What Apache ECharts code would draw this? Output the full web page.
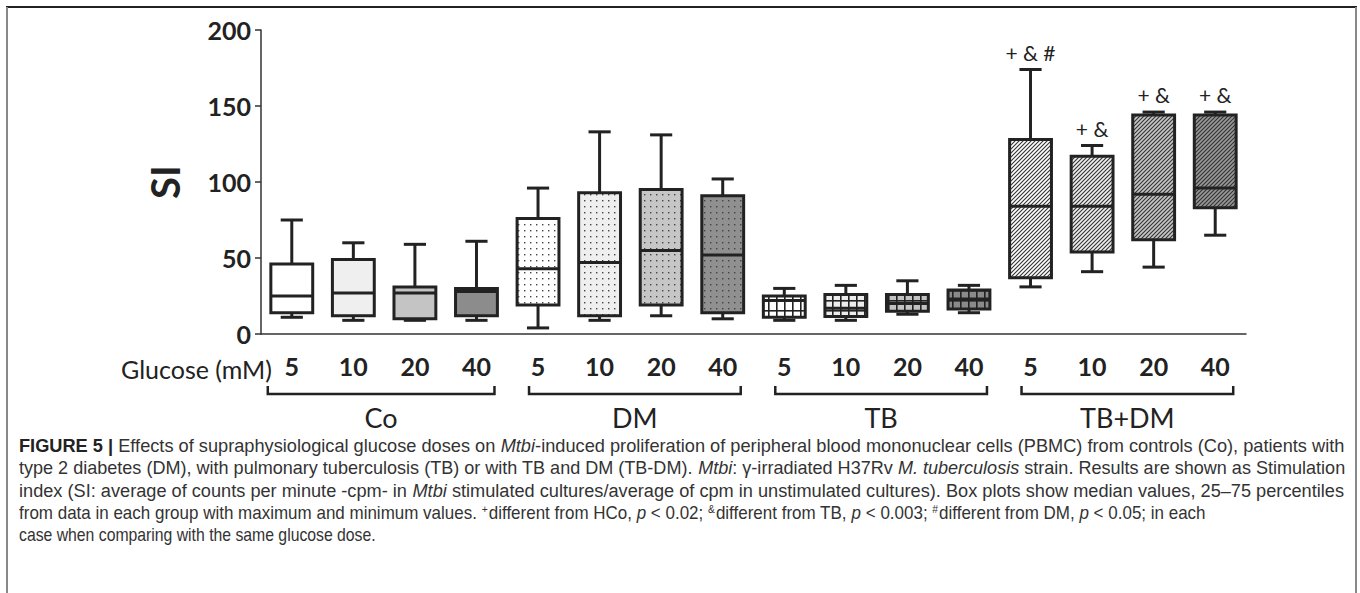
<!DOCTYPE html>
<html>
<head>
<meta charset="utf-8">
<script src="https://cdn.jsdelivr.net/npm/echarts@6/dist/echarts.min.js"></script>
<style>
  html, body { margin: 0; padding: 0; background: #fff; }
  #chart { width: 1360px; height: 593px; }
</style>
</head>
<body>
<div id="chart"></div>
<script>
// groups on the x axis, 4 glucose doses each
const groups = ['Co', 'DM', 'TB', 'TB+DM']
const doses = ['5', '10', '20', '40']
const categories = groups.flatMap(g => doses.map(d => g + ' ' + d))

// box plot values (SI)
const whiskerLow = [11, 9, 9, 9, 4, 9, 12, 10, 9, 9, 13, 14, 31, 41, 44, 65]
const q1 = [14, 12, 10, 12, 19, 12, 19, 14, 11, 11.5, 15, 16.5, 37, 54, 62, 83]
const median = [25, 27, 27, 28, 43, 47, 55, 52, 22, 17, 20, 23, 84, 84, 92, 96]
const q3 = [46, 49, 31, 30, 76, 93, 95, 91, 25, 26, 26, 29, 128, 117, 144, 144]
const whiskerHigh = [75, 60, 59, 61, 96, 133, 131, 102, 30, 32, 35, 32, 174, 124, 146, 146]
const sigLabels = ['', '', '', '', '', '', '', '', '', '', '', '', '+ & #', '+ &', '+ &', '+ &']
const yTicks = [0, 50, 100, 150, 200]

const boxData = categories.map((c, i) => [i, whiskerLow[i], q1[i], median[i], q3[i], whiskerHigh[i]])

// fills: pattern per group, grey shade per dose
const patternKinds = ['plain', 'dots', 'grid', 'hatch']
const shades = [
  ['#ffffff', '#efefef', '#c4c4c4', '#8c8c8c'],
  ['#ffffff', '#efefef', '#c6c6c6', '#909090'],
  ['#ffffff', '#ededed', '#c2c2c2', '#8a8a8a'],
  ['#ffffff', '#eeeeee', '#c6c6c6', '#979797']
]

function makeFill (kind, bg) {
  if (kind === 'plain') return bg
  const c = document.createElement('canvas')
  let ctx
  if (kind === 'dots') {
    c.width = 6; c.height = 6
    ctx = c.getContext('2d')
    ctx.fillStyle = bg; ctx.fillRect(0, 0, 6, 6)
    ctx.fillStyle = '#444'; ctx.fillRect(2, 2, 1.4, 1.4)
  } else if (kind === 'grid') {
    c.width = 8; c.height = 10
    ctx = c.getContext('2d')
    ctx.fillStyle = bg; ctx.fillRect(0, 0, 8, 10)
    ctx.fillStyle = '#222'
    ctx.fillRect(0, 0, 1.6, 10)
    ctx.fillRect(0, 0, 8, 1.6)
  } else {
    c.width = 4; c.height = 4
    ctx = c.getContext('2d')
    ctx.fillStyle = bg; ctx.fillRect(0, 0, 4, 4)
    ctx.strokeStyle = '#333'; ctx.lineWidth = 1.1
    ctx.beginPath()
    ctx.moveTo(-1, 5); ctx.lineTo(5, -1)
    ctx.moveTo(-1, 1); ctx.lineTo(1, -1)
    ctx.moveTo(3, 5); ctx.lineTo(5, 3)
    ctx.stroke()
  }
  return { type: 'pattern', image: c, repeat: 'repeat' }
}

const fills = categories.map((c, i) => makeFill(patternKinds[Math.floor(i / 4)], shades[Math.floor(i / 4)][i % 4]))

function renderBox (params, api) {
  const i = api.value(0)
  const band = api.size([1, 0])[0]
  const half = band * 0.34
  const cap = band * 0.18
  const x = api.coord([i, 0])[0]
  const y = k => api.coord([i, api.value(k)])[1]
  const yLow = y(1), yQ1 = y(2), yMed = y(3), yQ3 = y(4), yHigh = y(5)
  const ls = { stroke: '#222', lineWidth: 3 }
  return {
    type: 'group',
    children: [
      { type: 'line', shape: { x1: x, y1: yHigh, x2: x, y2: yQ3 }, style: ls },
      { type: 'line', shape: { x1: x, y1: yQ1, x2: x, y2: yLow }, style: ls },
      { type: 'line', shape: { x1: x - cap, y1: yHigh, x2: x + cap, y2: yHigh }, style: ls },
      { type: 'line', shape: { x1: x - cap, y1: yLow, x2: x + cap, y2: yLow }, style: ls },
      {
        type: 'rect',
        shape: { x: x - half, y: yQ3, width: half * 2, height: yQ1 - yQ3 },
        style: { fill: fills[i], stroke: '#222', lineWidth: 3 }
      },
      { type: 'line', shape: { x1: x - half, y1: yMed, x2: x + half, y2: yMed }, style: ls },
      {
        type: 'text',
        style: {
          text: sigLabels[i], x: x, y: yHigh - 7,
          align: 'center', verticalAlign: 'bottom',
          font: '21px Lato', fill: '#222'
        }
      }
    ]
  }
}

const chart = echarts.init(document.getElementById('chart'), null, { renderer: 'svg' })

chart.setOption({
  animation: false,
  grid: { left: 261, top: 30, width: 985, height: 304 },
  xAxis: {
    type: 'category',
    data: categories,
    axisLine: { lineStyle: { color: '#333', width: 1.5 } },
    axisTick: { alignWithLabel: true, length: 11, lineStyle: { color: '#333', width: 1.5 } },
    axisLabel: {
      formatter: v => v.split(' ')[1],
      fontFamily: 'Lato', fontWeight: 'bold', fontSize: 25, color: '#222', margin: 19
    }
  },
  yAxis: {
    type: 'value',
    min: yTicks[0],
    max: yTicks[yTicks.length - 1],
    interval: 50,
    name: 'SI',
    nameLocation: 'middle',
    nameRotate: 90,
    nameGap: 76,
    nameTextStyle: { fontFamily: 'Lato', fontWeight: 'bold', fontSize: 40, color: '#222' },
    axisLine: { show: true, lineStyle: { color: '#333', width: 1.5 } },
    axisTick: { show: true, length: 6, lineStyle: { color: '#333', width: 1.5 } },
    splitLine: { show: false },
    axisLabel: { fontFamily: 'Lato', fontWeight: 'bold', fontSize: 25, color: '#222', margin: 10 }
  },
  series: [{
    type: 'custom',
    renderItem: renderBox,
    data: boxData,
    encode: { x: 0, y: [1, 2, 3, 4, 5] },
    clip: false
  }]
})

// brackets and group names under the axis
const px = i => chart.convertToPixel({ xAxisIndex: 0 }, categories[i])
const graphics = []
groups.forEach((g, gi) => {
  const left = px(gi * 4) - (gi === 0 ? 24 : 9)
  const right = px(gi * 4 + 3) + 18
  graphics.push({
    type: 'polyline',
    shape: { points: [[left, 386], [left, 394], [right, 394], [right, 386]] },
    style: { stroke: '#222', lineWidth: 2.5, fill: null }
  })
  graphics.push({
    type: 'text',
    style: {
      text: g, x: (left + right) / 2, y: 417,
      align: 'center', verticalAlign: 'middle',
      font: '27px Lato', fill: '#222'
    }
  })
})
graphics.push({
  type: 'text',
  style: { text: 'Glucose (mM)', x: 272, y: 369, align: 'right', verticalAlign: 'middle', font: '25px Lato', fill: '#222' }
})

// figure frame
graphics.push({ type: 'line', shape: { x1: 6, y1: 7, x2: 1357, y2: 7 }, style: { stroke: '#222', lineWidth: 2 } })
graphics.push({ type: 'line', shape: { x1: 7, y1: 7, x2: 7, y2: 593 }, style: { stroke: '#888', lineWidth: 2 } })
graphics.push({ type: 'line', shape: { x1: 1356, y1: 7, x2: 1356, y2: 593 }, style: { stroke: '#888', lineWidth: 2 } })

// caption (narrowed horizontally to mimic the condensed caption face)
const captionLines = [
  '{b|FIGURE 5 |} Effects of supraphysiological glucose doses on {i|Mtbi}-induced proliferation of peripheral blood mononuclear cells (PBMC) from controls (Co), patients with',
  'type 2 diabetes (DM), with pulmonary tuberculosis (TB) or with TB and DM (TB-DM). {i|Mtbi}: γ-irradiated H37Rv {i|M. tuberculosis} strain. Results are shown as Stimulation',
  'index (SI: average of counts per minute -cpm- in {i|Mtbi} stimulated cultures/average of cpm in unstimulated cultures). Box plots show median values, 25–75 percentiles',
  'from data in each group with maximum and minimum values. {sup|+}different from HCo, {i|p} < 0.02; {sup|&}different from TB, {i|p} < 0.003; {sup|#}different from DM, {i|p} < 0.05; in each',
  'case when comparing with the same glucose dose.'
]
const lineEnds = [1345, 1345, 1345, 1205, 376]
const capFamily = "'Liberation Sans', Arial, sans-serif"
const capSize = 18
const fonts = {
  plain: capSize + 'px ' + capFamily,
  b: 'bold ' + capSize + 'px ' + capFamily,
  i: 'italic ' + capSize + 'px ' + capFamily,
  sup: '11px ' + capFamily
}
const mctx = document.createElement('canvas').getContext('2d')
function measureLine (line) {
  let w = 0
  line.replace(/\{(\w+)\|([^}]*)\}|([^{]+)/g, (m, s, t, plain) => {
    mctx.font = fonts[s || 'plain']
    w += mctx.measureText(s ? t : plain).width + (s === 'sup' ? 1 : 0)
    return m
  })
  return w
}
captionLines.forEach((line, k) => {
  graphics.push({
    type: 'text',
    x: 19,
    y: 446 + k * 22.3,
    scaleX: (lineEnds[k] - 19) / measureLine(line),
    style: {
      text: line, x: 0, y: 0,
      verticalAlign: 'middle',
      font: fonts.plain, fill: '#333',
      rich: {
        b: { font: fonts.b, fill: '#222' },
        i: { font: fonts.i, fill: '#333' },
        sup: { font: fonts.sup, fill: '#333', padding: [0, 1, 8, 0] }
      }
    }
  })
})

chart.setOption({ graphic: graphics })
</script>
</body>
</html>
